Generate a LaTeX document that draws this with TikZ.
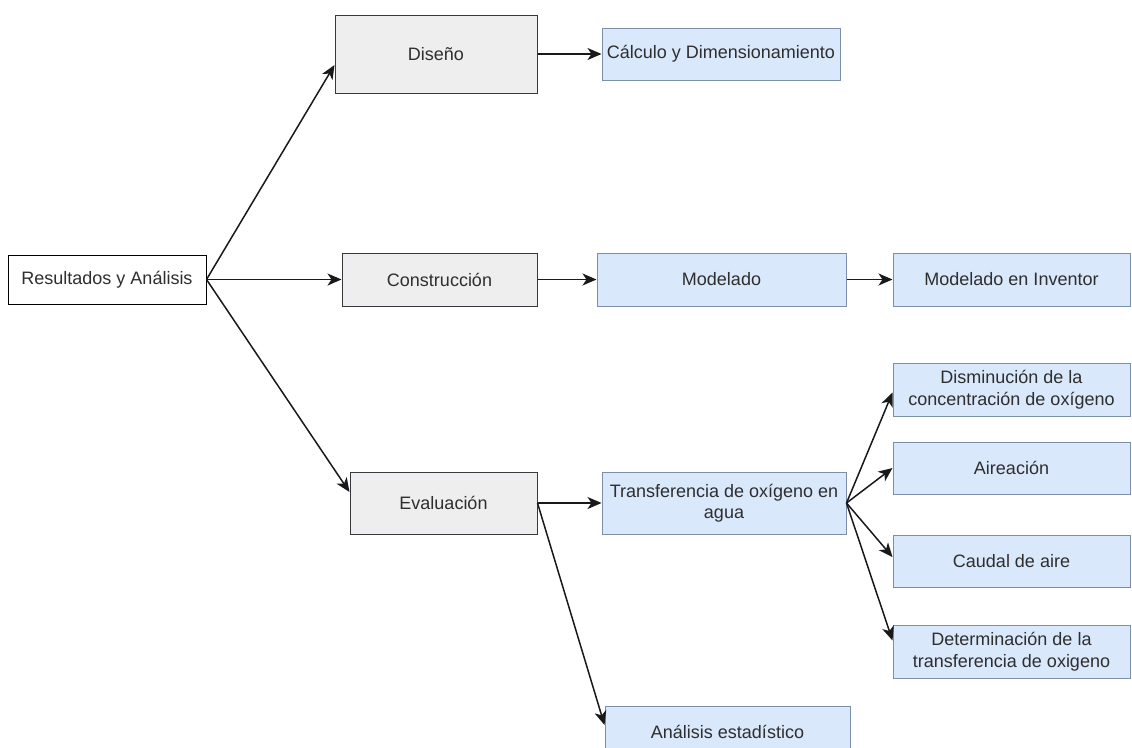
\documentclass[tikz,border=0pt]{standalone}
\usepackage{fontspec}
\setmainfont{Liberation Sans}
\usetikzlibrary{arrows.meta}
\definecolor{grayfill}{HTML}{EEEEEE}
\definecolor{grayline}{HTML}{36393D}
\definecolor{bluefill}{HTML}{DAE8FC}
\definecolor{blueline}{HTML}{7D8FA8}
\definecolor{txt}{HTML}{2E2E2E}
\begin{document}
\begin{tikzpicture}[x=1pt,y=-1pt,
  box/.style={draw, line width=1pt, inner sep=0pt, align=center, text=txt,
    font=\fontsize{18}{21.5}\selectfont},
  whitebox/.style={box, draw=black, fill=white},
  graybox/.style={box, draw=grayline, fill=grayfill},
  bluebox/.style={box, draw=blueline, fill=bluefill},
  arr/.style={line width=1.5pt, draw=black!90, -{Stealth[length=14pt,width=12pt,inset=4pt]}}
]
\useasboundingbox (0,0) rectangle (1132,747);
\clip (0,0) rectangle (1132,747);
\node[whitebox, minimum width=198pt, minimum height=49pt] (res) at (107,279.5) {Resultados y Análisis};
\node[graybox, minimum width=202pt, minimum height=78pt] (dis) at (436,54) {Diseño};
\node[bluebox, minimum width=238pt, minimum height=52pt] (calc) at (721,54) {Cálculo y Dimensionamiento};
\node[graybox, minimum width=195pt, minimum height=53pt] (con) at (439.5,279.5) {Construcción};
\node[bluebox, minimum width=249pt, minimum height=53pt] (mod) at (721.5,279.5) {Modelado};
\node[bluebox, minimum width=237pt, minimum height=53pt] (inv) at (1011.5,279.5) {Modelado en Inventor};
\node[graybox, minimum width=187pt, minimum height=62pt] (eva) at (443.5,503) {Evaluación};
\node[bluebox, minimum width=244pt, minimum height=62pt] (tra) at (724,503) {Transferencia de oxígeno en\\agua};
\node[bluebox, minimum width=237pt, minimum height=53pt] (dism) at (1011.5,389.5) {Disminución de la\\concentración de oxígeno};
\node[bluebox, minimum width=237pt, minimum height=52pt] (aire) at (1011.5,468) {Aireación};
\node[bluebox, minimum width=237pt, minimum height=52pt] (cau) at (1011.5,561) {Caudal de aire};
\node[bluebox, minimum width=237pt, minimum height=53pt] (det) at (1011.5,651.5) {Determinación de la\\transferencia de oxigeno};
\node[bluebox, minimum width=245pt, minimum height=52pt] (ana) at (727.5,732) {Análisis estadístico};

\draw[arr] (res.east) -- ([yshift=-11pt]dis.west);
\draw[arr] (res.east) -- (con.west);
\draw[arr] (res.east) -- ([yshift=11pt]eva.west);
\draw[arr] (dis.east) -- (calc.west);
\draw[arr] (con.east) -- (mod.west);
\draw[arr] (mod.east) -- (inv.west);
\draw[arr] (eva.east) -- (tra.west);
\draw[arr] (eva.east) -- ([yshift=7pt]ana.west);
\draw[arr] (tra.east) -- ([yshift=-3pt]dism.west);
\draw[arr] (tra.east) -- (aire.west);
\draw[arr] (tra.east) -- ([yshift=4pt]cau.west);
\draw[arr] (tra.east) -- ([yshift=11pt]det.west);
\end{tikzpicture}
\end{document}
